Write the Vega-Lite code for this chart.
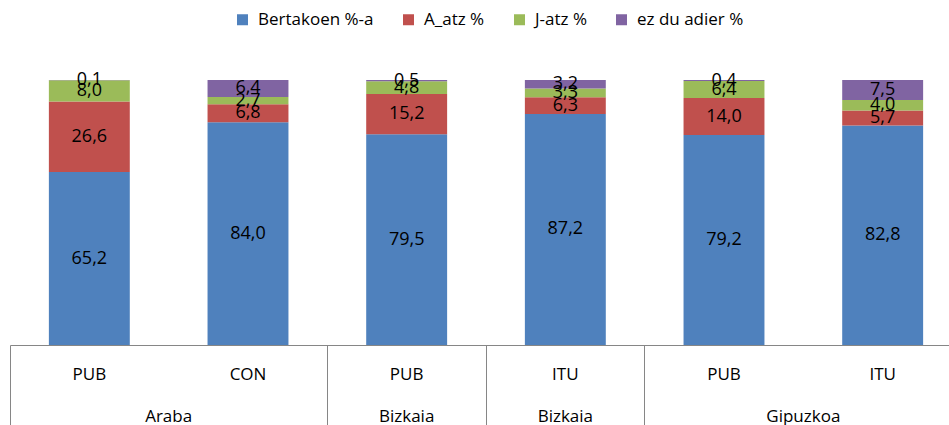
{
  "$schema": "https://vega.github.io/schema/vega-lite/v6.json",
  "width": 952,
  "height": 265,
  "autosize": {"type": "none"},
  "padding": {"left": 10, "top": 80, "right": 0, "bottom": 80},
  "background": "white",
  "config": {
    "view": {"stroke": null},
    "font": "Open Sans",
    "locale": {"number": {"decimal": ",", "thousands": ".", "grouping": [3], "currency": ["", "€"]}}
  },
  "data": {
    "values": [
      {"bar": "Araba|PUB", "series": "Bertakoen %-a", "value": 65.2},
      {"bar": "Araba|PUB", "series": "A_atz %", "value": 26.6},
      {"bar": "Araba|PUB", "series": "J-atz %", "value": 8.0},
      {"bar": "Araba|PUB", "series": "ez du adier %", "value": 0.1},
      {"bar": "Araba|CON", "series": "Bertakoen %-a", "value": 84.0},
      {"bar": "Araba|CON", "series": "A_atz %", "value": 6.8},
      {"bar": "Araba|CON", "series": "J-atz %", "value": 2.7},
      {"bar": "Araba|CON", "series": "ez du adier %", "value": 6.4},
      {"bar": "Bizkaia|PUB", "series": "Bertakoen %-a", "value": 79.5},
      {"bar": "Bizkaia|PUB", "series": "A_atz %", "value": 15.2},
      {"bar": "Bizkaia|PUB", "series": "J-atz %", "value": 4.8},
      {"bar": "Bizkaia|PUB", "series": "ez du adier %", "value": 0.5},
      {"bar": "Bizkaia|ITU", "series": "Bertakoen %-a", "value": 87.2},
      {"bar": "Bizkaia|ITU", "series": "A_atz %", "value": 6.3},
      {"bar": "Bizkaia|ITU", "series": "J-atz %", "value": 3.3},
      {"bar": "Bizkaia|ITU", "series": "ez du adier %", "value": 3.2},
      {"bar": "Gipuzkoa|PUB", "series": "Bertakoen %-a", "value": 79.2},
      {"bar": "Gipuzkoa|PUB", "series": "A_atz %", "value": 14.0},
      {"bar": "Gipuzkoa|PUB", "series": "J-atz %", "value": 6.4},
      {"bar": "Gipuzkoa|PUB", "series": "ez du adier %", "value": 0.4},
      {"bar": "Gipuzkoa|ITU", "series": "Bertakoen %-a", "value": 82.8},
      {"bar": "Gipuzkoa|ITU", "series": "A_atz %", "value": 5.7},
      {"bar": "Gipuzkoa|ITU", "series": "J-atz %", "value": 4.0},
      {"bar": "Gipuzkoa|ITU", "series": "ez du adier %", "value": 7.5}
    ]
  },
  "transform": [
    {"calculate": "indexof(['Bertakoen %-a','A_atz %','J-atz %','ez du adier %'], datum.series)", "as": "k"}
  ],
  "encoding": {
    "y": {"field": "value", "type": "quantitative", "stack": "normalize", "axis": null},
    "order": {"field": "k", "type": "quantitative"}
  },
  "layer": [
    {
      "mark": {"type": "bar", "width": {"band": 0.51}},
      "encoding": {
        "x": {
          "field": "bar", "type": "nominal", "sort": null,
          "scale": {"paddingInner": 0, "paddingOuter": 0},
          "axis": {
            "orient": "bottom",
            "title": null, "labelExpr": "split(datum.value,'|')[1]", "ticks": false,
            "domain": true, "domainColor": "#868686", "domainWidth": 1,
            "labelFontSize": 17, "labelColor": "black", "labelPadding": 29,
            "labelBaseline": "middle", "labelAngle": 0, "grid": false
          }
        },
        "color": {
          "field": "series", "type": "nominal",
          "scale": {"domain": ["Bertakoen %-a", "A_atz %", "J-atz %", "ez du adier %"], "range": ["#4F81BD", "#C0504D", "#9BBB59", "#8064A2"]},
          "legend": {
            "orient": "none", "legendX": 224, "legendY": -69, "direction": "horizontal",
            "title": null, "symbolType": "square", "symbolSize": 121, "symbolStrokeWidth": 0,
            "labelFontSize": 17, "labelColor": "black", "labelOffset": 7, "columnPadding": 26,
            "padding": 0, "labelLimit": 300
          }
        }
      }
    },
    {
      "mark": {"type": "text", "fontSize": 18, "color": "black"},
      "encoding": {
        "x": {
          "field": "bar", "type": "nominal", "sort": null,
          "axis": {
            "orient": "bottom",
            "title": null,
            "values": ["Araba|PUB", "Bizkaia|PUB", "Bizkaia|ITU", "Gipuzkoa|PUB"],
            "bandPosition": 0, "ticks": true, "tickSize": 80, "tickColor": "#868686", "tickWidth": 1,
            "domain": false, "grid": false,
            "labelExpr": "split(datum.value,'|')[0]", "labelPadding": -9,
            "labelBaseline": "middle", "labelFontSize": 17, "labelColor": "black", "labelAngle": 0,
            "labelOffset": {"expr": "indexof(['Araba|PUB','Gipuzkoa|PUB'], datum.value) >= 0 ? bandwidth('x')/2 : 0"}
          }
        },
        "y": {"field": "value", "type": "quantitative", "stack": "normalize", "bandPosition": 0.5, "axis": null},
        "detail": {"field": "series"},
        "text": {"field": "value", "type": "quantitative", "format": ".1f"}
      }
    }
  ],
  "resolve": {"axis": {"x": "independent"}}
}
